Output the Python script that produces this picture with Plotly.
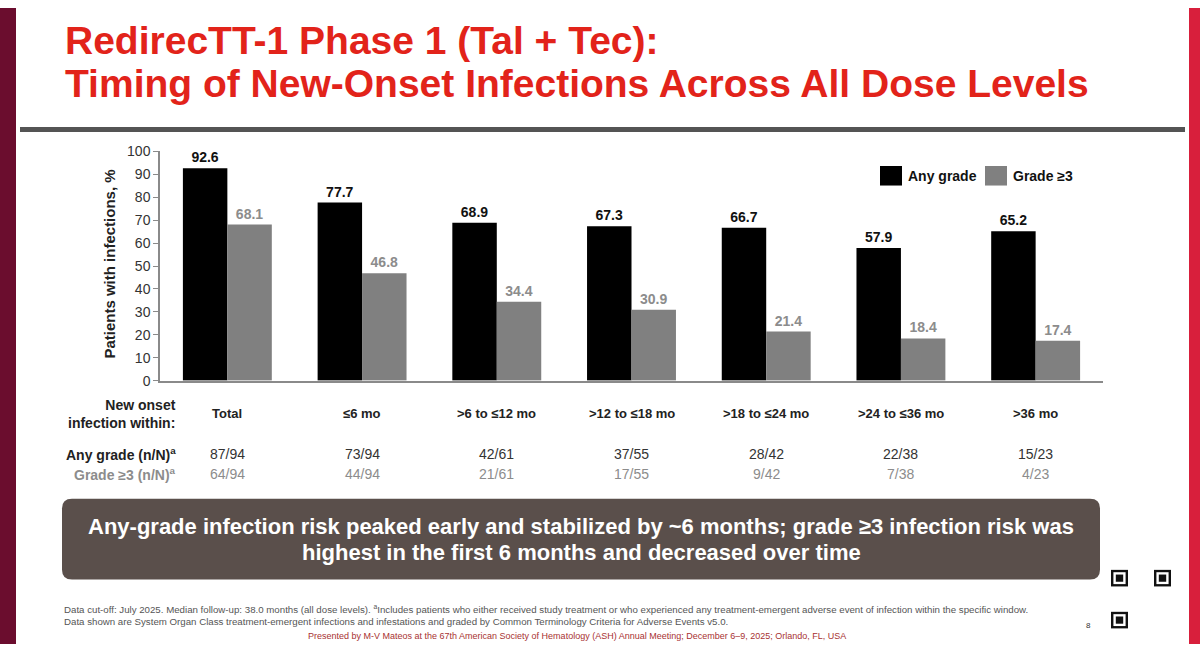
import plotly.graph_objects as go

# データ
categories = ["Total", "≤6 mo", ">6 to ≤12 mo", ">12 to ≤18 mo",
              ">18 to ≤24 mo", ">24 to ≤36 mo", ">36 mo"]
any_grade = [92.6, 77.7, 68.9, 67.3, 66.7, 57.9, 65.2]
grade3 = [68.1, 46.8, 34.4, 30.9, 21.4, 18.4, 17.4]
any_grade_nN = ["87/94", "73/94", "42/61", "37/55", "28/42", "22/38", "15/23"]
grade3_nN = ["64/94", "44/94", "21/61", "17/55", "9/42", "7/38", "4/23"]
series_names = ["Any grade", "Grade ≥3"]

W, H = 1200, 652
FONT = "Liberation Sans, Arial, sans-serif"
RED = "#e2231a"
BLACK = "#000000"
GRAY = "#808080"
LABEL_GRAY = "#8c8c8c"


# ピクセル座標 -> paper座標
def px(x):
    return x / W


def py(y):
    return 1 - y / H


def note(x, y, text, size, color="#222222", xanchor="center", **kw):
    # paper座標の注釈（アンカーは明示する）
    d = dict(x=px(x), y=py(y), xref="paper", yref="paper", text=text, showarrow=False,
             xanchor=xanchor, yanchor="middle", font=dict(size=size, color=color))
    d.update(kw)
    return d


fig = go.Figure()
fig.add_trace(go.Bar(x=categories, y=any_grade, name=series_names[0],
                     marker=dict(color=BLACK, line=dict(width=0)),
                     texttemplate="<b>%{y:.1f}</b>", textposition="outside",
                     textfont=dict(color="#111111", size=14, family=FONT),
                     cliponaxis=False, constraintext="none"))
fig.add_trace(go.Bar(x=categories, y=grade3, name=series_names[1],
                     marker=dict(color=GRAY, line=dict(width=0)),
                     texttemplate="<b>%{y:.1f}</b>", textposition="outside",
                     textfont=dict(color=LABEL_GRAY, size=14, family=FONT),
                     cliponaxis=False, constraintext="none"))

shapes = []
# スライドの左右の帯
shapes.append(dict(type="rect", xref="paper", yref="paper", x0=0, x1=px(16), y0=0, y1=1,
                   fillcolor="#6b0d2e", line=dict(width=0), layer="below"))
shapes.append(dict(type="rect", xref="paper", yref="paper", x0=px(1189), x1=1, y0=0, y1=1,
                   fillcolor="#d81f3c", line=dict(width=0), layer="below"))
# タイトル下の線
shapes.append(dict(type="rect", xref="paper", yref="paper", x0=px(20), x1=px(1185),
                   y0=py(127), y1=py(122), fillcolor="#545454", line=dict(width=0)))

annotations = []
# 手動の凡例
leg = [(880, BLACK, series_names[0]), (985, GRAY, series_names[1])]
for lx, col, name in leg:
    shapes.append(dict(type="rect", xref="paper", yref="paper", x0=px(lx), x1=px(lx + 22),
                       y0=py(182), y1=py(162), fillcolor=col, line=dict(width=0)))
    annotations.append(note(lx + 26, 172, "<b>" + name + "</b>", 14, "#111111", xanchor="left"))

# まとめの角丸ボックス
bx0, bx1, by0, by1, r = px(62), px(1100), py(586), py(503), 10
rx, ry = r / W, r / H
path = (f"M {bx0 + rx},{by0} L {bx1 - rx},{by0} Q {bx1},{by0} {bx1},{by0 + ry} "
        f"L {bx1},{by1 - ry} Q {bx1},{by1} {bx1 - rx},{by1} "
        f"L {bx0 + rx},{by1} Q {bx0},{by1} {bx0},{by1 - ry} "
        f"L {bx0},{by0 + ry} Q {bx0},{by0} {bx0 + rx},{by0} Z")
shapes.append(dict(type="path", xref="paper", yref="paper", path=path,
                   fillcolor="#5a4f4b", line=dict(width=0)))

# QRコード風の飾り
qx, qy, m = 1111, 576, 2.4
for fx, fy in [(qx, qy), (qx + 43, qy), (qx, qy + 43)]:
    for k, col in enumerate(["#111111", "white", "#111111"]):
        shapes.append(dict(type="rect", xref="paper", yref="paper",
                           x0=px(fx + k * m), x1=px(fx + 17 - k * m),
                           y0=py(fy + 17 - k * m), y1=py(fy + k * m),
                           fillcolor=col, line=dict(width=0)))

# タイトル
annotations.append(note(63, 33, "<b>RedirecTT-1 Phase 1 (Tal + Tec):</b>", 39, RED, xanchor="left"))
annotations.append(note(63, 77, "<b>Timing of New-Onset Infections Across All Dose Levels</b>",
                        39, RED, xanchor="left"))

# y軸タイトル
annotations.append(note(110, 262, "<b>Patients with infections, %</b>", 15, textangle=-90))

# 表の部分
annotations.append(note(178, 416, "<b>New onset<br>infection within:</b>", 14,
                        xanchor="right", align="right"))
annotations.append(note(178, 457, "<b>Any grade (n/N)<sup>a</sup></b>", 14, xanchor="right"))
annotations.append(note(178, 478, "<b>Grade ≥3 (n/N)<sup>a</sup></b>", 14, LABEL_GRAY, xanchor="right"))
for c, a, g in zip(categories, any_grade_nN, grade3_nN):
    for yy, txt, col, sz in [(416, "<b>" + c + "</b>", "#222222", 13),
                             (457, a, "#333333", 14), (478, g, LABEL_GRAY, 14)]:
        annotations.append(dict(x=c, y=py(yy), xref="x", yref="paper", showarrow=False,
                                xanchor="center", yanchor="middle",
                                text=txt, font=dict(size=sz, color=col)))

# ボックス内の文
annotations.append(note(581, 532,
                        "<b>Any-grade infection risk peaked early and stabilized by ~6 months; "
                        "grade ≥3 infection risk was</b>", 22, "white"))
annotations.append(note(581, 558,
                        "<b>highest in the first 6 months and decreased over time</b>", 22, "white"))

# 脚注
annotations.append(note(62, 616,
                        "Data cut-off: July 2025. Median follow-up: 38.0 months (all dose levels). "
                        "<sup>a</sup>Includes patients who either received study treatment or who experienced "
                        "any treatment-emergent adverse event of infection within the specific window.",
                        9.7, "#555555", xanchor="left"))
annotations.append(note(62, 629,
                        "Data shown are System Organ Class treatment-emergent infections and infestations "
                        "and graded by Common Terminology Criteria for Adverse Events v5.0.",
                        9.7, "#555555", xanchor="left"))
annotations.append(note(577, 644,
                        "Presented by M-V Mateos at the 67th American Society of Hematology (ASH) "
                        "Annual Meeting; December 6–9, 2025; Orlando, FL, USA",
                        9, "#a83232"))
annotations.append(note(1088, 633, "8", 8, "#333333"))

fig.update_layout(
    width=W, height=H,
    margin=dict(l=0, r=0, t=0, b=0),
    paper_bgcolor="white", plot_bgcolor="white",
    font=dict(family=FONT, color="#222222"),
    barmode="group", bargap=0.34, bargroupgap=0,
    showlegend=False,
    xaxis=dict(domain=[px(160), px(1103)], showticklabels=False, ticks="",
               showline=True, linecolor="#8a8a8a", linewidth=1.5, showgrid=False),
    yaxis=dict(domain=[py(382), py(147)], range=[0, 100], dtick=10, autorange=False,
               ticks="outside", ticklen=5, tickcolor="#8a8a8a",
               showline=True, linecolor="#8a8a8a", linewidth=1.5,
               showgrid=False, zeroline=False,
               tickfont=dict(size=14, color="#333333")),
    shapes=shapes,
    annotations=annotations,
)

# ページの余白をなくす
css = ("var s=document.createElement('style');"
       "s.textContent='html,body{margin:0;padding:0;overflow:hidden;width:1200px;height:652px;}';"
       "document.head.appendChild(s);")
fig.write_html("out.html", config={"displayModeBar": False}, post_script=css)
